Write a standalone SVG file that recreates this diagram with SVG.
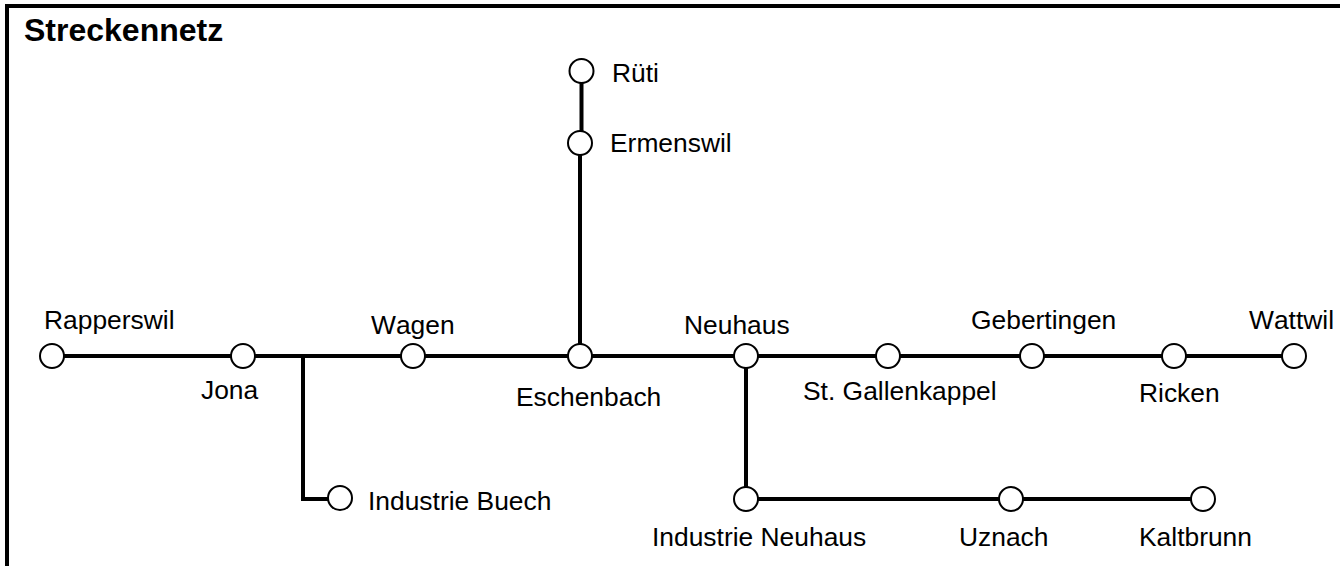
<svg xmlns="http://www.w3.org/2000/svg" width="1340" height="566" viewBox="0 0 1340 566">
<style>
text{font-family:"Liberation Sans",Arial,sans-serif;font-size:26.400px;fill:#000;font-kerning:none}
.t{font-weight:bold;font-size:32px}
.l{fill:none;stroke:#000;stroke-width:4}
.s{fill:#fff;stroke:#000;stroke-width:2}
</style>
<rect width="1340" height="566" fill="#fff"/>
<path id="frame" class="l" d="M7 566V6H1340"/>
<text id="title" class="t" x="24" y="41">Streckennetz</text>
<g id="connectors">
<path class="l" d="M52 356H1294"/>
<path class="l" d="M581.500 71V143"/>
<path class="l" d="M580 143V356"/>
<path class="l" d="M303 356V499H340"/>
<path class="l" d="M746 356V499H1203"/>
</g>
<g id="rapperswil"><circle class="s" cx="52" cy="356" r="12"/><text x="44" y="329">Rapperswil</text></g>
<g id="jona"><circle class="s" cx="243" cy="356" r="12"/><text x="201" y="399">Jona</text></g>
<g id="wagen"><circle class="s" cx="413" cy="356" r="12"/><text x="371" y="334">Wagen</text></g>
<g id="eschenbach"><circle class="s" cx="580" cy="356" r="12"/><text x="516" y="406">Eschenbach</text></g>
<g id="neuhaus"><circle class="s" cx="746" cy="356" r="12"/><text x="684" y="334">Neuhaus</text></g>
<g id="st-gallenkappel"><circle class="s" cx="888" cy="356" r="12"/><text x="803" y="400">St. Gallenkappel</text></g>
<g id="gebertingen"><circle class="s" cx="1032" cy="356" r="12"/><text x="971" y="329">Gebertingen</text></g>
<g id="ricken"><circle class="s" cx="1174" cy="356" r="12"/><text x="1139" y="402">Ricken</text></g>
<g id="wattwil"><circle class="s" cx="1294" cy="356" r="12"/><text x="1249" y="329">Wattwil</text></g>
<g id="rueti"><circle class="s" cx="581.500" cy="71" r="12"/><text x="612" y="82">Rüti</text></g>
<g id="ermenswil"><circle class="s" cx="580" cy="143" r="12"/><text x="610" y="152">Ermenswil</text></g>
<g id="industrie-buech"><circle class="s" cx="340" cy="498" r="12"/><text x="368" y="510">Industrie Buech</text></g>
<g id="industrie-neuhaus"><circle class="s" cx="746" cy="499" r="12"/><text x="652" y="546">Industrie Neuhaus</text></g>
<g id="uznach"><circle class="s" cx="1011" cy="499" r="12"/><text x="959" y="546">Uznach</text></g>
<g id="kaltbrunn"><circle class="s" cx="1203" cy="499" r="12"/><text x="1139" y="546">Kaltbrunn</text></g>
</svg>
